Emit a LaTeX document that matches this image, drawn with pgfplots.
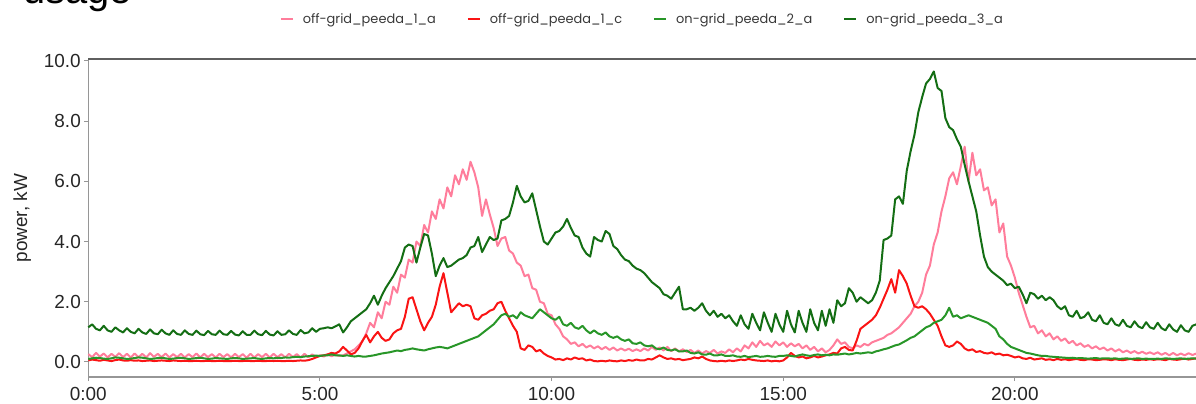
\documentclass[border=0pt]{standalone}
\usepackage{pgfplots}
\usepackage{pgfplotstable}
\pgfplotsset{compat=1.18}
\usepackage{fontspec}
\setmainfont{Liberation Sans}
\newfontfamily\legfont{Poppins}
\definecolor{cpink}{RGB}{255,125,155}
\definecolor{cred}{RGB}{250,20,20}
\definecolor{clgreen}{RGB}{40,150,40}
\definecolor{cdgreen}{RGB}{20,110,20}
\definecolor{spine}{RGB}{150,150,150}
\definecolor{topspine}{RGB}{95,95,95}
\pgfplotstableread{
a c b d
0.26 0.05 0.10 1.15
0.16 0.08 0.12 1.25
0.30 0.06 0.14 1.10
0.18 0.04 0.13 1.05
0.28 0.07 0.11 1.20
0.15 0.05 0.10 1.05
0.27 0.03 0.12 1.00
0.17 0.06 0.15 1.15
0.29 0.08 0.14 1.05
0.16 0.05 0.12 0.98
0.27 0.04 0.10 1.12
0.15 0.06 0.11 1.00
0.28 0.04 0.13 0.95
0.16 0.05 0.15 1.10
0.27 0.03 0.14 0.98
0.15 0.04 0.12 0.93
0.29 0.05 0.10 1.08
0.17 0.03 0.11 0.95
0.27 0.04 0.13 0.92
0.16 0.05 0.14 1.07
0.28 0.04 0.12 0.95
0.15 0.03 0.10 0.90
0.26 0.05 0.11 1.05
0.16 0.04 0.13 0.93
0.27 0.03 0.14 0.90
0.15 0.04 0.12 1.05
0.26 0.03 0.10 0.93
0.16 0.03 0.11 0.90
0.28 0.04 0.13 1.04
0.15 0.03 0.14 0.92
0.27 0.03 0.12 0.89
0.16 0.04 0.10 1.03
0.26 0.03 0.11 0.92
0.15 0.03 0.13 0.90
0.27 0.04 0.12 1.04
0.16 0.03 0.11 0.92
0.26 0.03 0.10 0.90
0.15 0.03 0.12 1.03
0.27 0.04 0.13 0.91
0.16 0.03 0.12 0.88
0.26 0.03 0.10 1.02
0.14 0.04 0.11 0.90
0.27 0.03 0.12 0.90
0.15 0.03 0.13 1.04
0.26 0.04 0.11 0.92
0.16 0.03 0.10 0.89
0.27 0.03 0.12 1.03
0.15 0.04 0.13 0.91
0.27 0.03 0.12 0.88
0.16 0.04 0.14 1.02
0.26 0.03 0.13 0.90
0.15 0.03 0.15 0.92
0.27 0.04 0.14 1.05
0.16 0.03 0.16 0.93
0.26 0.04 0.17 0.90
0.15 0.05 0.16 1.06
0.27 0.04 0.18 0.95
0.16 0.06 0.19 0.98
0.25 0.10 0.20 1.12
0.17 0.15 0.21 1.00
0.22 0.20 0.20 1.10
0.18 0.22 0.22 1.12
0.25 0.25 0.22 1.15
0.19 0.30 0.25 1.12
0.24 0.28 0.22 1.18
0.20 0.35 0.22 1.25
0.22 0.50 0.20 0.98
0.28 0.38 0.22 1.15
0.35 0.25 0.20 1.35
0.42 0.30 0.18 1.45
0.55 0.45 0.20 1.55
0.68 0.70 0.18 1.65
0.95 0.90 0.18 1.75
1.30 0.65 0.20 1.95
1.15 0.85 0.22 2.20
1.65 1.00 0.25 1.90
1.45 0.80 0.28 2.20
2.00 0.70 0.30 2.45
1.90 0.75 0.32 2.65
2.50 0.95 0.35 2.85
2.30 1.05 0.38 3.10
2.90 1.10 0.36 3.35
2.80 1.50 0.40 3.80
3.40 2.10 0.42 3.90
3.30 2.15 0.45 3.85
4.00 1.75 0.42 3.30
3.85 1.35 0.40 3.80
4.55 1.05 0.38 4.25
4.30 1.30 0.42 4.20
5.00 1.50 0.45 3.60
4.75 1.90 0.48 2.85
5.40 2.50 0.50 3.20
5.10 2.95 0.48 3.45
5.80 2.30 0.45 3.15
5.50 1.65 0.50 3.20
6.20 1.80 0.55 3.30
5.90 1.95 0.60 3.40
6.40 1.85 0.65 3.45
6.05 1.90 0.70 3.55
6.65 1.85 0.75 3.80
6.30 1.45 0.80 3.85
5.80 1.40 0.85 4.15
4.85 1.55 0.95 3.65
5.40 1.60 1.05 3.90
4.90 1.70 1.15 4.15
4.45 1.75 1.25 4.05
3.85 1.95 1.40 4.10
4.10 2.00 1.55 4.70
4.15 1.70 1.60 4.75
3.70 1.45 1.50 4.85
3.60 1.20 1.55 5.30
3.30 1.00 1.45 5.85
3.20 0.45 1.65 5.50
2.85 0.40 1.55 5.30
2.90 0.55 1.50 5.35
2.45 0.50 1.45 5.60
2.40 0.35 1.60 5.05
2.00 0.40 1.75 4.50
1.95 0.28 1.65 4.00
1.60 0.20 1.55 3.90
1.55 0.15 1.45 4.10
1.25 0.08 1.40 4.30
1.10 0.10 1.50 4.35
0.85 0.06 1.25 4.50
0.75 0.12 1.20 4.75
0.60 0.08 1.30 4.45
0.65 0.15 1.15 4.20
0.52 0.10 1.10 4.15
0.60 0.12 1.20 3.80
0.48 0.05 1.05 3.60
0.55 0.08 0.95 3.50
0.45 0.03 1.05 4.15
0.52 0.02 0.95 4.05
0.42 0.04 0.90 4.00
0.50 0.02 0.98 4.35
0.40 0.05 0.85 4.25
0.48 0.03 0.80 3.85
0.38 0.02 0.85 3.75
0.45 0.05 0.75 3.55
0.38 0.03 0.70 3.40
0.44 0.06 0.75 3.35
0.36 0.04 0.62 3.20
0.42 0.08 0.60 3.10
0.36 0.05 0.65 3.05
0.45 0.05 0.55 2.95
0.38 0.10 0.52 2.80
0.50 0.08 0.55 2.65
0.40 0.15 0.45 2.55
0.48 0.22 0.42 2.45
0.38 0.15 0.48 2.25
0.50 0.10 0.40 2.20
0.36 0.12 0.38 2.10
0.45 0.08 0.42 2.30
0.35 0.10 0.35 2.50
0.42 0.06 0.35 1.75
0.33 0.08 0.38 1.75
0.40 0.10 0.30 1.80
0.30 0.15 0.28 1.70
0.38 0.12 0.32 1.80
0.28 0.18 0.25 1.95
0.36 0.10 0.24 1.70
0.30 0.05 0.28 1.55
0.40 0.03 0.22 1.70
0.28 0.02 0.22 1.50
0.35 0.04 0.25 1.60
0.30 0.02 0.20 1.45
0.42 0.05 0.20 1.55
0.32 0.03 0.22 1.35
0.45 0.05 0.18 1.20
0.35 0.08 0.17 1.55
0.55 0.06 0.20 1.25
0.45 0.10 0.16 1.10
0.65 0.07 0.18 1.60
0.50 0.05 0.20 1.30
0.70 0.04 0.17 1.05
0.55 0.03 0.18 1.65
0.62 0.05 0.20 1.30
0.50 0.02 0.18 1.00
0.68 0.04 0.17 1.60
0.55 0.02 0.20 1.25
0.65 0.05 0.20 1.00
0.50 0.15 0.22 1.70
0.62 0.30 0.20 1.25
0.52 0.20 0.18 0.98
0.60 0.15 0.22 1.70
0.45 0.18 0.25 1.30
0.55 0.12 0.22 1.00
0.40 0.15 0.20 1.75
0.50 0.20 0.23 1.30
0.35 0.15 0.25 1.05
0.45 0.18 0.22 1.70
0.32 0.22 0.24 1.20
0.40 0.25 0.22 1.75
0.55 0.30 0.25 1.30
0.75 0.28 0.24 2.05
0.60 0.45 0.26 1.85
0.65 0.50 0.28 1.95
0.50 0.40 0.25 2.45
0.45 0.38 0.27 2.30
0.55 0.70 0.30 2.00
0.50 1.10 0.28 2.15
0.60 1.20 0.30 2.05
0.55 1.30 0.32 1.95
0.65 1.40 0.30 2.05
0.70 1.55 0.35 2.30
0.75 1.80 0.38 2.70
0.80 2.10 0.42 4.05
0.90 2.40 0.45 4.10
0.95 2.75 0.50 4.20
1.05 2.30 0.55 5.40
1.15 3.05 0.58 5.50
1.30 2.85 0.65 5.25
1.45 2.60 0.72 6.35
1.60 2.20 0.80 7.00
1.85 1.85 0.85 7.55
2.00 1.80 0.95 8.30
2.30 1.85 1.05 8.80
2.90 1.75 1.15 9.25
3.20 1.60 1.20 9.40
3.90 1.40 1.30 9.65
4.30 1.20 1.35 9.10
5.00 0.85 1.40 9.00
5.50 0.55 1.55 8.10
6.10 0.50 1.80 7.80
6.30 0.55 1.50 7.70
5.90 0.68 1.55 7.40
6.50 0.60 1.45 7.15
7.15 0.45 1.50 6.55
6.00 0.38 1.55 6.00
6.95 0.42 1.50 5.50
6.20 0.33 1.45 5.00
6.40 0.36 1.40 4.20
5.70 0.30 1.35 3.50
5.80 0.28 1.30 3.15
5.20 0.32 1.20 3.00
5.40 0.25 1.10 2.90
4.30 0.28 0.85 2.80
4.60 0.22 0.75 2.70
3.50 0.24 0.60 2.55
3.20 0.20 0.50 2.60
2.80 0.15 0.45 2.45
2.30 0.18 0.40 2.50
1.90 0.12 0.35 2.25
1.50 0.10 0.30 1.95
1.15 0.14 0.28 2.30
1.20 0.08 0.25 2.25
0.95 0.10 0.22 2.10
1.05 0.12 0.20 2.20
0.85 0.07 0.20 2.05
0.95 0.09 0.18 2.15
0.75 0.06 0.17 2.05
0.85 0.10 0.16 1.85
0.70 0.07 0.15 1.75
0.78 0.09 0.14 1.85
0.62 0.06 0.13 1.55
0.70 0.08 0.14 1.50
0.55 0.10 0.12 1.70
0.62 0.07 0.13 1.45
0.50 0.06 0.12 1.50
0.56 0.09 0.11 1.65
0.45 0.08 0.12 1.40
0.52 0.06 0.13 1.35
0.42 0.07 0.11 1.55
0.48 0.09 0.12 1.30
0.38 0.08 0.12 1.25
0.45 0.06 0.11 1.45
0.35 0.09 0.12 1.25
0.42 0.07 0.10 1.20
0.32 0.06 0.11 1.40
0.38 0.08 0.12 1.20
0.30 0.10 0.10 1.15
0.36 0.07 0.11 1.35
0.28 0.06 0.12 1.18
0.34 0.08 0.10 1.12
0.27 0.07 0.11 1.32
0.32 0.09 0.10 1.15
0.26 0.07 0.10 1.10
0.32 0.09 0.11 1.30
0.24 0.08 0.10 1.12
0.30 0.06 0.12 1.05
0.22 0.10 0.11 1.25
0.30 0.08 0.10 1.08
0.22 0.07 0.11 1.00
0.28 0.09 0.12 1.22
0.22 0.11 0.10 1.05
0.29 0.08 0.11 1.00
0.23 0.10 0.12 1.20
0.28 0.12 0.11 1.25
}\usage
\begin{document}
\begin{tikzpicture}
\begin{axis}[
  at={(0,0)}, anchor=south west,
  scale only axis, width=1108bp, height=317.6bp,
  xmin=0, xmax=23.9167, ymin=-0.5, ymax=10.05,
  clip=false,
  axis lines*=left,
  axis line style={spine, line width=1.2bp},
  tick align=outside, major tick length=4bp,
  tick style={spine, line width=1bp},
  xtick={0,5,10,15,20},
  xticklabels={0:00,5:00,10:00,15:00,20:00},
  ytick={0,2,4,6,8,10},
  /pgf/number format/assume math mode=true,
  yticklabel={\pgfmathprintnumber[fixed,fixed zerofill,precision=1]{\tick}},
  ticklabel style={font=\fontsize{19}{22}\selectfont, text=black!85},
  xticklabel style={yshift=-3bp},
  ylabel={power, kW},
  ylabel style={at={(axis description cs:-0.0596,0.5)}, anchor=center, font=\fontsize{19}{22}\selectfont, text=black!85},
  legend columns=4,
  legend style={at={(axis description cs:0.5,1.127)}, anchor=center, draw=none, fill=none,
    font=\legfont\fontsize{13}{15}\selectfont, text=black!78,
    /tikz/every even column/.append style={column sep=29bp}},
  legend image code/.code={\draw[#1, line width=2bp] (0bp,0bp) -- (12bp,0bp); \path (19bp,0bp);},
  every axis plot/.append style={line width=2bp, line join=round},
]
\addplot[cpink] table[x expr=\coordindex/12, y=a] {\usage};
\addlegendentry{off-grid\_peeda\_1\_a}
\addplot[cred] table[x expr=\coordindex/12, y=c] {\usage};
\addlegendentry{off-grid\_peeda\_1\_c}
\addplot[clgreen] table[x expr=\coordindex/12, y=b] {\usage};
\addlegendentry{on-grid\_peeda\_2\_a}
\addplot[cdgreen] table[x expr=\coordindex/12, y=d] {\usage};
\addlegendentry{on-grid\_peeda\_3\_a}
\draw[topspine, line width=2bp] (rel axis cs:0,1) -- (rel axis cs:1,1);
\end{axis}
\node[anchor=base west, inner sep=0pt, font=\fontsize{40}{40}\selectfont] at (-65.3bp,373bp) {usage};
\pgfresetboundingbox
\path[use as bounding box] (-88.3bp,-27bp) rectangle (1107.7bp,377bp);
\end{tikzpicture}
\end{document}
